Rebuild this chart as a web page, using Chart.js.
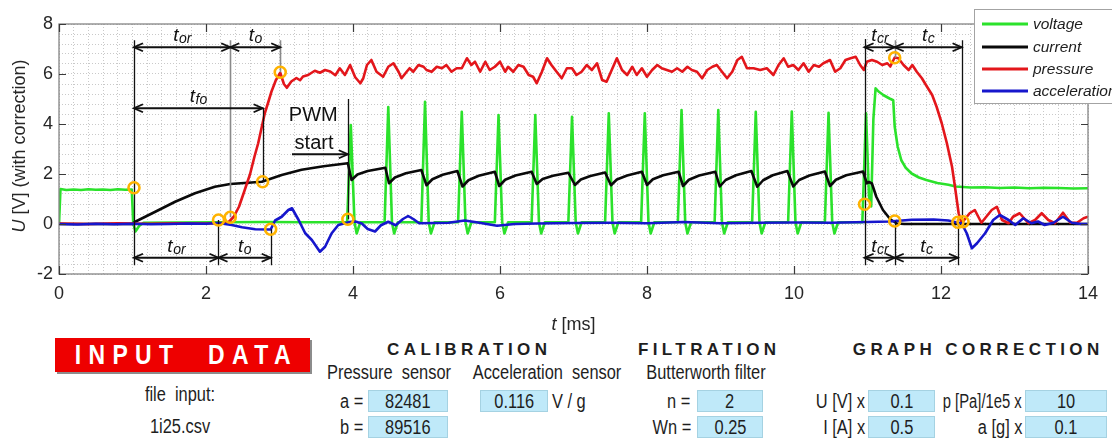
<!DOCTYPE html>
<html><head><meta charset="utf-8">
<script src="https://cdn.jsdelivr.net/npm/chart.js@4.4.1/dist/chart.umd.min.js"></script>
<style>
html,body{margin:0;padding:0;background:#fff;}
#wrap{position:relative;width:1112px;height:439px;overflow:hidden;background:#fff;}
#c{position:absolute;left:0;top:0;}
.tx{position:absolute;white-space:pre;font-family:"Liberation Sans",Arial,Helvetica,sans-serif;font-size:20px;line-height:1;color:#1e1e1e;}
.ctr{transform:translate(-50%,-50%) scaleX(0.82);}
.rgt{transform-origin:100% 50%;transform:translateY(-50%) scaleX(0.82);}
.rgt2{transform-origin:100% 50%;transform:translateY(-50%) scaleX(0.74);}
.lft{transform-origin:0 50%;transform:translateY(-50%) scaleX(0.82);}
.hd{position:absolute;white-space:pre;font-family:"Liberation Sans",Arial,Helvetica,sans-serif;font-weight:bold;font-size:17px;letter-spacing:4.4px;padding-left:4.4px;line-height:1;color:#1e1e1e;transform:translate(-50%,-50%);}
.box{position:absolute;background:#bfe9f9;border:1px solid #a5d2e2;box-sizing:border-box;display:flex;align-items:center;justify-content:center;font-family:"Liberation Sans",Arial,Helvetica,sans-serif;font-size:20px;color:#1e1e1e;}
.box span{display:inline-block;transform:scaleX(0.82);}
#inp{position:absolute;left:55px;top:338px;width:255px;height:34px;background:#ee0000;box-shadow:2px 2px 0 #8c8c8c;display:flex;align-items:center;justify-content:center;overflow:hidden;}
#inp span{display:inline-block;color:#fff;font-family:"Liberation Sans",Arial,Helvetica,sans-serif;font-weight:bold;font-size:28px;letter-spacing:9px;padding-left:9px;transform:scaleX(0.82);white-space:pre;line-height:1;}
</style></head>
<body>
<div id="wrap">
<canvas id="c" width="1112" height="335"></canvas>

<div id="inp"><span>INPUT  DATA</span></div>
<div class="tx ctr" style="left:180px;top:394px;">file  input:</div>
<div class="tx ctr" style="left:180px;top:426px;">1i25.csv</div>

<div class="hd" style="left:467px;top:349px;">CALIBRATION</div>
<div class="tx ctr" style="left:389px;top:372px;">Pressure  sensor</div>
<div class="tx ctr" style="left:547px;top:372px;">Acceleration  sensor</div>
<div class="tx rgt" style="right:749px;top:401px;">a =</div>
<div class="box" style="left:368px;top:390px;width:80px;height:22px;"><span>82481</span></div>
<div class="tx rgt" style="right:749px;top:427px;">b =</div>
<div class="box" style="left:368px;top:416px;width:80px;height:22px;"><span>89516</span></div>
<div class="box" style="left:480px;top:390px;width:68px;height:22px;"><span>0.116</span></div>
<div class="tx lft" style="left:552px;top:401px;">V / g</div>

<div class="hd" style="left:707px;top:349px;">FILTRATION</div>
<div class="tx ctr" style="left:706px;top:372px;">Butterworth filter</div>
<div class="tx rgt" style="right:422px;top:401px;">n =</div>
<div class="box" style="left:697px;top:390px;width:66px;height:22px;"><span>2</span></div>
<div class="tx rgt" style="right:421px;top:427px;">Wn =</div>
<div class="box" style="left:697px;top:416px;width:66px;height:22px;"><span>0.25</span></div>

<div class="hd" style="left:976px;top:349px;">GRAPH CORRECTION</div>
<div class="tx rgt" style="right:247px;top:401px;">U [V] x</div>
<div class="box" style="left:868px;top:390px;width:67px;height:22px;"><span>0.1</span></div>
<div class="tx rgt" style="right:247px;top:427px;">I [A] x</div>
<div class="box" style="left:868px;top:416px;width:67px;height:22px;"><span>0.5</span></div>
<div class="tx rgt2" style="right:90px;top:401px;">p [Pa]/1e5 x</div>
<div class="box" style="left:1025px;top:390px;width:82px;height:22px;"><span>10</span></div>
<div class="tx rgt" style="right:90px;top:427px;">a [g] x</div>
<div class="box" style="left:1025px;top:416px;width:82px;height:22px;"><span>0.1</span></div>
</div>

<script>
const FONT = '"Liberation Sans", Arial, Helvetica, sans-serif';

// ---- data: [t (ms), U (V, with correction)] ----
const voltage = [
 [0.00,0.00],[0.02,1.40],[0.10,1.36],[0.20,1.38],[0.30,1.36],[0.40,1.39],[0.50,1.37],[0.60,1.38],[0.70,1.36],[0.80,1.39],[0.90,1.37],[0.99,1.38],
 [1.01,0.02],[1.04,-0.30],[1.09,-0.08],[1.15,0.05],[1.60,0.06],[2.20,0.07],[2.80,0.08],[3.40,0.07],
 [3.92,0.07],[3.97,3.96],[4.02,0.07],[4.05,-0.38],[4.10,0.07],
 [4.43,0.07],[4.48,4.68],[4.53,0.07],[4.56,-0.38],[4.61,0.07],
 [4.93,0.07],[4.98,4.89],[5.03,0.07],[5.06,-0.38],[5.11,0.07],
 [5.43,0.07],[5.48,4.49],[5.53,0.07],[5.56,-0.38],[5.61,0.07],
 [5.93,0.07],[5.98,4.36],[6.03,0.07],[6.06,-0.38],[6.11,0.07],
 [6.43,0.07],[6.48,4.36],[6.53,0.07],[6.56,-0.38],[6.61,0.07],
 [6.93,0.07],[6.98,4.29],[7.03,0.07],[7.06,-0.38],[7.11,0.07],
 [7.43,0.07],[7.48,4.43],[7.53,0.07],[7.56,-0.38],[7.61,0.07],
 [7.92,0.07],[7.97,4.43],[8.02,0.07],[8.05,-0.38],[8.10,0.07],
 [8.42,0.07],[8.47,4.56],[8.52,0.07],[8.55,-0.38],[8.60,0.07],
 [8.92,0.07],[8.97,4.56],[9.02,0.07],[9.05,-0.38],[9.10,0.07],
 [9.43,0.07],[9.48,4.49],[9.53,0.07],[9.56,-0.38],[9.61,0.07],
 [9.92,0.07],[9.97,4.50],[10.02,0.07],[10.05,-0.38],[10.10,0.07],
 [10.42,0.07],[10.47,4.45],[10.52,0.07],[10.55,-0.38],[10.60,0.07],
 [10.93,0.07],[10.98,4.43],[11.02,1.10],[11.05,0.70],[11.08,4.20],[11.11,5.43],[11.15,5.30],[11.22,5.15],[11.30,5.02],[11.35,4.95],
 [11.37,3.90],[11.41,3.10],[11.46,2.55],[11.52,2.25],[11.60,2.02],[11.70,1.86],[11.80,1.76],[11.95,1.64],[12.10,1.57],[12.20,1.50],
 [12.40,1.46],[12.60,1.47],[12.80,1.44],[13.00,1.46],[13.20,1.43],[13.40,1.45],[13.60,1.44],[13.80,1.42],[14.00,1.43]
];
const current = [
 [0.00,0.00],[1.00,0.00],[1.03,0.08],[1.31,0.49],[1.58,0.89],[1.85,1.23],[2.12,1.49],[2.33,1.60],[2.57,1.65],[2.76,1.69],[3.03,1.96],[3.30,2.17],[3.60,2.31],[3.93,2.43],
 [3.98,1.76],[4.06,1.98],[4.20,2.12],[4.44,2.25],
 [4.49,1.63],[4.57,1.86],[4.72,2.03],[4.93,2.16],
 [5.00,1.55],[5.08,1.79],[5.22,1.97],[5.42,2.12],
 [5.49,1.50],[5.57,1.75],[5.71,1.93],[5.93,2.09],
 [5.99,1.52],[6.07,1.77],[6.21,1.94],[6.43,2.09],
 [6.50,1.60],[6.58,1.80],[6.72,1.93],[6.93,2.05],
 [7.02,1.56],[7.10,1.78],[7.23,1.92],[7.43,2.06],
 [7.51,1.55],[7.59,1.78],[7.73,1.94],[7.93,2.09],
 [8.00,1.56],[8.08,1.79],[8.22,1.95],[8.43,2.09],
 [8.49,1.52],[8.57,1.77],[8.71,1.94],[8.93,2.09],
 [8.99,1.50],[9.07,1.76],[9.21,1.95],[9.42,2.12],
 [9.50,1.49],[9.58,1.75],[9.71,1.95],[9.91,2.12],
 [9.99,1.50],[10.07,1.76],[10.21,1.94],[10.42,2.10],
 [10.49,1.52],[10.57,1.77],[10.71,1.95],[10.94,2.10],
 [10.99,1.63],[11.02,1.68],[11.06,1.62],[11.12,1.09],[11.21,0.56],[11.31,0.19],[11.40,0.02],[11.50,0.00],[14.00,0.00]
];
const pressure = [
 [0.00,0.02],[0.40,0.00],[0.80,0.03],[1.20,0.01],[1.60,0.03],[2.00,0.02],[2.30,0.05],[2.38,0.30],[2.45,0.70],[2.52,1.30],[2.60,2.00],[2.66,2.70],[2.71,3.23],[2.76,3.90],[2.80,4.43],[2.85,4.90],[2.89,5.29],[2.95,5.75],[3.01,6.05],
 [3.06,5.60],[3.10,5.45],[3.16,5.70],[3.23,5.84],[3.28,5.75],[3.32,5.90],[3.39,5.96],[3.48,6.13],[3.55,6.05],[3.62,6.16],[3.69,6.10],[3.76,5.95],[3.82,6.23],[3.89,5.96],[3.96,6.36],[4.03,5.87],
 [4.10,5.63],[4.14,5.83],[4.19,6.36],[4.25,6.56],[4.32,6.09],[4.41,5.89],[4.48,6.29],[4.55,6.43],[4.62,6.09],[4.66,5.83],[4.73,6.09],[4.77,6.23],[4.82,6.09],[4.89,6.36],[4.96,6.29],[5.00,6.16],
 [5.07,6.09],[5.14,6.29],[5.21,6.23],[5.27,6.36],[5.34,6.09],[5.41,6.23],[5.48,6.23],[5.55,6.63],[5.61,6.36],[5.66,6.49],[5.73,6.09],[5.80,6.49],[5.86,6.16],[5.93,6.29],[6.00,6.49],
 [6.07,6.09],[6.11,6.29],[6.18,6.09],[6.25,6.36],[6.32,6.29],[6.39,5.96],[6.45,5.89],[6.50,5.63],[6.57,6.09],[6.64,6.63],[6.70,6.36],[6.77,6.09],[6.84,5.83],[6.91,6.23],[6.98,6.23],
 [7.04,5.96],[7.11,6.09],[7.18,6.36],[7.25,6.16],[7.32,6.43],[7.39,5.76],[7.45,5.69],[7.52,6.16],[7.59,6.63],[7.66,6.16],[7.73,5.96],[7.80,6.29],[7.86,5.96],[7.93,6.23],[8.00,5.89],
 [8.07,6.16],[8.14,6.36],[8.20,6.23],[8.27,6.16],[8.34,6.09],[8.41,6.23],[8.48,6.09],[8.55,6.29],[8.61,6.16],[8.68,6.09],[8.75,5.83],[8.82,6.16],[8.89,6.29],[8.95,6.36],[9.02,6.09],
 [9.09,5.83],[9.16,6.09],[9.23,6.56],[9.29,6.69],[9.36,6.23],[9.45,6.23],[9.54,6.16],[9.63,6.23],[9.72,5.96],[9.79,6.36],[9.86,6.63],[9.92,6.29],[9.99,6.36],
 [10.06,6.16],[10.13,6.43],[10.20,6.09],[10.27,6.36],[10.34,6.29],[10.40,6.43],[10.49,6.56],[10.56,6.09],[10.63,6.23],[10.70,6.56],[10.77,6.63],[10.84,6.69],[10.90,6.36],[10.95,6.16],
 [10.99,6.49],[11.06,6.56],[11.13,6.49],[11.20,6.36],[11.27,6.43],[11.31,6.30],[11.37,6.66],[11.42,6.63],[11.49,6.36],[11.56,6.16],[11.61,6.36],[11.67,6.09],[11.74,5.83],[11.81,5.49],
 [11.88,5.16],[11.94,4.69],[12.01,4.03],[12.08,3.23],[12.15,2.29],[12.19,1.49],[12.24,0.43],[12.28,0.03],
 [12.39,0.43],[12.46,0.56],[12.55,0.05],[12.69,0.56],[12.76,0.69],[12.83,0.16],[12.92,0.03],[12.98,0.29],[13.07,0.43],[13.19,0.03],[13.28,0.16],[13.37,0.43],[13.46,0.16],[13.55,0.03],
 [13.66,0.45],[13.76,0.05],[13.85,0.05],[13.94,0.23],[14.00,0.29]
];
const acceleration = [
 [0.00,0.00],[0.25,-0.02],[0.50,0.01],[0.75,-0.01],[1.00,0.01],[1.25,-0.01],[1.50,0.00],[1.75,0.02],[2.00,0.01],[2.17,0.04],[2.35,-0.04],[2.49,-0.13],[2.67,-0.21],[2.88,-0.22],
 [2.94,0.14],[3.03,0.29],[3.12,0.56],[3.17,0.63],[3.26,0.16],[3.35,-0.37],[3.44,-0.64],[3.55,-1.11],[3.62,-0.91],[3.71,-0.37],[3.80,-0.04],[3.89,0.03],[3.95,0.08],[4.03,0.10],
 [4.12,0.02],[4.20,-0.20],[4.30,-0.30],[4.38,-0.05],[4.48,0.09],[4.58,-0.05],[4.68,0.20],[4.75,0.32],[4.82,0.20],[4.90,0.03],[5.10,0.04],[5.30,0.05],[5.52,0.14],[5.70,0.06],[5.96,-0.07],
 [6.20,0.00],[6.50,0.02],[7.00,0.04],[7.50,0.05],[8.00,0.03],[8.50,0.08],[9.00,0.03],[9.50,0.05],[10.00,0.06],[10.50,0.05],[11.00,0.08],[11.30,0.10],[11.60,0.17],[11.90,0.18],[12.10,0.14],
 [12.23,0.05],[12.28,0.03],[12.35,-0.37],[12.42,-0.97],[12.49,-0.77],[12.60,-0.37],[12.71,0.16],[12.80,0.36],[12.92,0.16],[13.01,-0.04],[13.12,0.23],[13.23,0.03],[13.32,0.10],[13.41,-0.04],
 [13.53,0.05],[13.66,0.29],[13.78,0.05],[13.91,0.00],[14.00,0.00]
];
// highlighted characteristic points (orange rings)
const markerT = [1.02, 2.17, 2.33, 2.77, 2.88, 3.01, 3.93, 10.96, 11.37, 11.37, 12.23, 12.30];
const markerU = [1.45, 0.16, 0.27, 1.69, -0.21, 6.07, 0.19, 0.79, 6.65, 0.12, 0.07, 0.09];

// axis tick labels
const xTickLabels = ['0','2','4','6','8','10','12','14'];
const yTickLabels = ['-2','0','2','4','6','8'];

// time-interval annotations (data units)
const guideLines = [ // t, uFrom, uTo, gray?
 [1.02, 7.35, -1.65, 0], [2.33, 7.35, 0.27, 1], [3.01, 7.35, 6.07, 1], [2.77, 4.65, 1.69, 0],
 [2.17, 0.16, -1.65, 0], [2.88, -0.21, -1.65, 0], [3.93, 5.0, 0.19, 0],
 [10.96, 7.4, -1.65, 0], [11.37, 7.35, 6.65, 1], [11.37, 0.12, -1.65, 0],
 [12.28, 7.35, 0.09, 0], [12.23, 0.07, -1.65, 0]
];
const spanArrows = [ // tFrom, tTo, u, subscript
 [1.02, 2.33, 7.07, 'or'], [2.33, 3.01, 7.07, 'o'], [1.02, 2.77, 4.63, 'fo'],
 [1.02, 2.17, -1.35, 'or'], [2.17, 2.88, -1.35, 'o'],
 [10.96, 11.37, 7.07, 'cr'], [11.37, 12.28, 7.07, 'c'],
 [10.96, 11.37, -1.35, 'cr'], [11.37, 12.23, -1.35, 'c']
];
const pwmArrow = [3.17, 3.93, 2.79];
const pwmText = [['PWM', 3.46, 4.34], ['start', 3.47, 3.24]];

const COLORS = {voltage:'#2be22b', current:'#0a0a0a', pressure:'#e3161b', acceleration:'#1616cc'};

function xy(arr){ return arr.map(p => ({x:p[0], y:p[1]})); }
function isMajor(v){ return Math.abs(v/2 - Math.round(v/2)) < 1e-6; }

function chevron(ctx, x, y, dir){
  ctx.beginPath();
  ctx.moveTo(x - dir*9, y - 4);
  ctx.lineTo(x, y);
  ctx.lineTo(x - dir*9, y + 4);
  ctx.stroke();
}
function tLabel(ctx, sub, cx, by){
  ctx.textBaseline = 'alphabetic'; ctx.textAlign = 'left';
  ctx.font = 'italic 19px ' + FONT;
  const w1 = ctx.measureText('t').width;
  ctx.font = 'italic 14px ' + FONT;
  const w2 = ctx.measureText(sub).width;
  const x0 = cx - (w1 + w2)/2;
  ctx.font = 'italic 19px ' + FONT; ctx.fillText('t', x0, by);
  ctx.font = 'italic 14px ' + FONT; ctx.fillText(sub, x0 + w1 + 0.5, by + 2);
}

const decor = {
  id: 'decor',
  afterDatasetDraw(chart, args){
    if (args.index !== 3) return;
    const ctx = chart.ctx, X = v => chart.scales.x.getPixelForValue(v), Y = v => chart.scales.y.getPixelForValue(v);
    ctx.save();
    ctx.lineCap = 'butt';
    guideLines.forEach(([t, u1, u2, g]) => {
      ctx.strokeStyle = g ? '#8a8a8a' : '#111';
      ctx.lineWidth = g ? 1.6 : 1.3;
      ctx.beginPath(); ctx.moveTo(Math.round(X(t)) + 0.5, Y(u1)); ctx.lineTo(Math.round(X(t)) + 0.5, Y(u2)); ctx.stroke();
    });
    ctx.strokeStyle = '#111'; ctx.fillStyle = '#111'; ctx.lineWidth = 1.9;
    spanArrows.forEach(([a, b, u, sub]) => {
      const x1 = X(a), x2 = X(b), y = Y(u);
      ctx.beginPath(); ctx.moveTo(x1, y); ctx.lineTo(x2, y); ctx.stroke();
      chevron(ctx, x1, y, -1); chevron(ctx, x2, y, 1);
      tLabel(ctx, sub, (x1 + x2)/2, y - 6);
    });
    { const [a, b, u] = pwmArrow; const y = Y(u);
      ctx.beginPath(); ctx.moveTo(X(a), y); ctx.lineTo(X(b), y); ctx.stroke(); chevron(ctx, X(b), y, 1); }
    ctx.font = '20px ' + FONT; ctx.textAlign = 'center'; ctx.textBaseline = 'middle';
    pwmText.forEach(([s, t, u]) => ctx.fillText(s, X(t), Y(u)));
    ctx.restore();
  },
  afterDraw(chart){
    const ctx = chart.ctx, a = chart.chartArea, xs = chart.scales.x, ys = chart.scales.y;
    ctx.save();
    // axes box
    ctx.strokeStyle = '#858585'; ctx.lineWidth = 1.3;
    ctx.strokeRect(a.left, a.top, a.right - a.left, a.bottom - a.top);
    // major inward ticks
    ctx.strokeStyle = '#3a3a3a'; ctx.lineWidth = 1.2;
    xTickLabels.forEach(l => { const x = Math.round(xs.getPixelForValue(+l)) + 0.5;
      ctx.beginPath(); ctx.moveTo(x, a.bottom); ctx.lineTo(x, a.bottom - 8); ctx.moveTo(x, a.top); ctx.lineTo(x, a.top + 8); ctx.stroke(); });
    yTickLabels.forEach(l => { const y = Math.round(ys.getPixelForValue(+l)) + 0.5;
      ctx.beginPath(); ctx.moveTo(a.left, y); ctx.lineTo(a.left + 7, y); ctx.moveTo(a.right, y); ctx.lineTo(a.right - 7, y); ctx.stroke(); });
    // axis titles
    ctx.fillStyle = '#262626'; ctx.textBaseline = 'alphabetic'; ctx.textAlign = 'left';
    ctx.font = 'italic 18px ' + FONT; const wt = ctx.measureText('t').width;
    ctx.font = '18px ' + FONT; const wr = ctx.measureText(' [ms]').width;
    const cx = (a.left + a.right)/2, x0 = cx - (wt + wr)/2;
    ctx.font = 'italic 18px ' + FONT; ctx.fillText('t', x0, 330);
    ctx.font = '18px ' + FONT; ctx.fillText(' [ms]', x0 + wt, 330);
    ctx.save();
    ctx.translate(25, (a.top + a.bottom)/2 - 3); ctx.rotate(-Math.PI/2);
    ctx.font = 'italic 18px ' + FONT; const wu = ctx.measureText('U').width;
    ctx.font = '18px ' + FONT; const wrest = ctx.measureText(' [V] (with correction)').width;
    const s0 = -(wu + wrest)/2;
    ctx.font = 'italic 18px ' + FONT; ctx.fillText('U', s0, 0);
    ctx.font = '18px ' + FONT; ctx.fillText(' [V] (with correction)', s0 + wu, 0);
    ctx.restore();
    // legend
    ctx.fillStyle = '#fff'; ctx.fillRect(974.5, 9.5, 150, 94);
    ctx.strokeStyle = '#a3a3a3'; ctx.lineWidth = 1; ctx.strokeRect(974.5, 9.5, 150, 94);
    const ly = [24, 47, 69, 91];
    chart.data.datasets.slice(0, 4).forEach((ds, i) => {
      ctx.strokeStyle = ds.borderColor; ctx.lineWidth = 3;
      ctx.beginPath(); ctx.moveTo(982, ly[i]); ctx.lineTo(1028, ly[i]); ctx.stroke();
      ctx.fillStyle = '#1e1e1e'; ctx.font = 'italic 15.5px ' + FONT; ctx.textBaseline = 'middle';
      ctx.fillText(ds.label, 1033, ly[i] + 1);
    });
    ctx.restore();
  }
};

function lineDs(label, arr, order){
  return {label, data: xy(arr), borderColor: COLORS[label], backgroundColor: COLORS[label], borderWidth: 2.6,
          pointRadius: 0, tension: 0, fill: false, order, borderJoinStyle: 'round'};
}

new Chart(document.getElementById('c'), {
  type: 'line',
  data: { datasets: [
    lineDs('voltage', voltage, 4),
    lineDs('current', current, 3),
    lineDs('pressure', pressure, 2),
    lineDs('acceleration', acceleration, 1),
    {label: 'points', data: markerT.map((t, i) => ({x: t, y: markerU[i]})), showLine: false, order: 0,
     pointRadius: 5.5, pointBorderWidth: 2.6, pointBorderColor: '#ffb300', pointBackgroundColor: 'rgba(0,0,0,0)',
     borderColor: '#ffb300', backgroundColor: 'rgba(0,0,0,0)'}
  ]},
  options: {
    responsive: false, animation: false, devicePixelRatio: 1,
    layout: {padding: {top: 24, right: 24, left: 0, bottom: 0}},
    plugins: {legend: {display: false}, tooltip: {enabled: false}},
    events: [],
    scales: {
      x: {type: 'linear', min: 0, max: 14,
        afterFit(s){ s.height = 61; },
        ticks: {stepSize: 0.2, autoSkip: false, maxRotation: 0, minRotation: 0, padding: 9, color: '#262626',
                font: {size: 18, family: FONT}, callback: v => isMajor(v) ? xTickLabels[Math.round(v/2)] : ''},
        grid: {color: '#c9c9c9', lineWidth: 1, drawTicks: false},
        border: {display: false, dash: [1, 2]}},
      y: {type: 'linear', min: -2, max: 8,
        afterFit(s){ s.width = 59; },
        ticks: {stepSize: 0.4, autoSkip: false, padding: 6, color: '#262626',
                font: {size: 18, family: FONT}, callback: v => isMajor(v) ? yTickLabels[Math.round((v + 2)/2)] : ''},
        grid: {color: '#c9c9c9', lineWidth: 1, drawTicks: false},
        border: {display: false, dash: [1, 2]}}
    }
  },
  plugins: [decor]
});
</script>
</body></html>
